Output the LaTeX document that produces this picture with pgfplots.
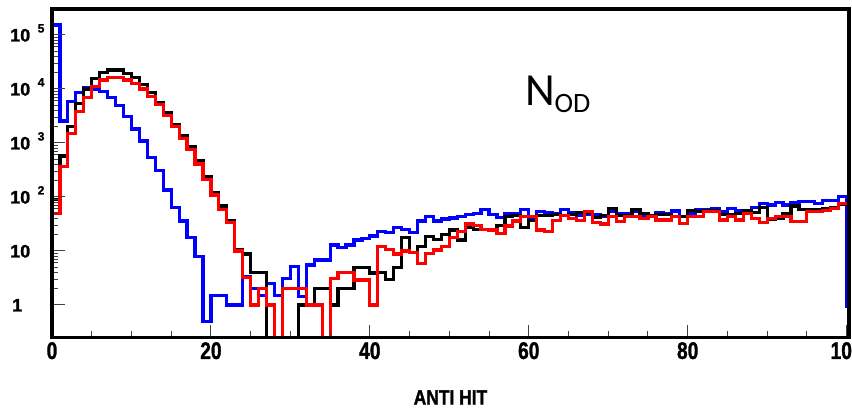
\documentclass[border=0pt]{standalone}
\usepackage{graphicx}
\usepackage{pgfplots}
\pgfplotsset{compat=1.18}
\usepackage{fontspec}
\setmainfont{Liberation Sans}
\newfontfamily\hv[FakeBold=1.5]{Liberation Sans Bold}
\newfontfamily\carlito{Carlito}
\newcommand\dec[1]{10\hspace{7.5bp}\raisebox{9bp}{\fontsize{12bp}{12bp}\selectfont #1}}
\newcommand\xl[1]{\scalebox{0.8}[1]{#1}}
\begin{document}
\begin{tikzpicture}
\begin{axis}[
 scale only axis, width=797bp, height=328.5bp,
 ymode=log, xmin=0, xmax=100.3, ymin=0.25, ymax=3.03e5,
 axis on top,
 axis line style={line width=3.1bp},
 tick pos=left, tick align=inside,
 major tick length=13bp, minor tick length=6.5bp,
 every tick/.style={black!75, line width=1bp},
 xtick={0,20,40,60,80,100}, minor x tick num=3,
 xticklabels={\xl{0},\xl{20},\xl{40},\xl{60},\xl{80},\xl{100}},
 ytick={1,10,100,1000,10000,100000},
 yticklabels={\hspace{2bp}1,10,\dec{2},\dec{3},\dec{4},\dec{5}},
 yticklabel style={anchor=base west, inner sep=0pt, xshift=-42bp, yshift=-6.5bp, font=\hv\fontsize{18bp}{18bp}\selectfont},
 xticklabel style={anchor=north, inner sep=0pt, yshift=-4.5bp, font=\hv\fontsize{24bp}{24bp}\selectfont},
 xlabel={\scalebox{0.85}[1]{ANTI HIT}},
 every axis x label/.style={at={(axis description cs:0.5,0)}, anchor=base, yshift=-67bp, inner sep=0pt, font=\hv\fontsize{20.5bp}{20.5bp}\selectfont},
 every axis plot/.append style={const plot, line width=3.2bp, no markers},
]
\addplot[blue] coordinates {(0,0.01)(0,153000)(1,2550)(2,5830)(3,8670)(4,10600)(5,10000)(6,8930)(7,6920)(8,4910)(9,3070)(10,1820)(11,1090)(12,535)(13,312)(14,135)(15,63)(16,36)(17,17.5)(18,8)(19,0.49)(20,1.5)(21,1.5)(22,1)(23,1)(24,3.4)(25,2)(26,1.5)(27,2.5)(28,1.5)(29,3.1)(30,5.1)(31,1.45)(32,5.5)(33,6.8)(34,6.8)(35,12.9)(36,11.7)(37,12.9)(38,16)(39,17)(40,19)(41,22.8)(42,22)(43,27)(44,25)(45,22)(46,36)(47,43)(48,36)(49,39)(50,41)(51,43)(52,47)(53,50)(54,59)(55,48)(56,42)(57,50)(58,50)(59,59)(60,40)(61,53)(62,51)(63,50)(64,59)(65,51)(66,46)(67,47)(68,47)(69,44)(70,54)(71,50)(72,50)(73,54)(74,43)(75,43)(76,52)(77,49)(78,55)(79,43)(80,50)(81,58)(82,58)(83,60)(84,53)(85,62)(86,57)(87,57)(88,64)(89,76)(90,71)(91,78)(92,71)(93,78)(94,82)(95,82)(96,76)(97,85)(98,85)(99,101)(100,0.93)(101,0.93)};
\addplot[black] coordinates {(0,0.01)(0,90)(1,575)(2,2000)(3,5430)(4,10000)(5,15800)(6,20400)(7,22500)(8,22500)(9,19500)(10,16300)(11,12200)(12,8700)(13,5660)(14,3700)(15,2150)(16,1400)(17,850)(18,480)(19,240)(20,120)(21,68)(22,36)(23,10.7)(24,8.8)(25,4)(26,4)(27,0.01)(28,0.01)(29,0.01)(30,0.01)(31,1)(32,1)(33,2)(34,2)(35,1)(36,2)(37,2)(38,5)(39,5)(40,3.9)(41,4)(42,3)(43,5)(44,17.9)(45,9.5)(46,12)(47,18.5)(48,16.4)(49,20)(50,24.5)(51,16)(52,27)(53,25)(54,25)(55,25)(56,30)(57,43)(58,46)(59,27)(60,37)(61,45)(62,46)(63,48)(64,46)(65,48)(66,51)(67,51)(68,42)(69,46)(70,62)(71,46)(72,46)(73,59)(74,50)(75,46)(76,48)(77,48)(78,43)(79,43)(80,56)(81,54)(82,56)(83,57)(84,48)(85,48)(86,50)(87,57)(88,52)(89,64)(90,39)(91,40)(92,50)(93,68)(94,59)(95,59)(96,59)(97,62)(98,64)(99,74)(100,74)(101,74)};
\addplot[red] coordinates {(0,0.01)(0,50)(1,364)(2,1510)(3,3800)(4,6920)(5,11000)(6,14700)(7,16400)(8,16400)(9,14700)(10,12700)(11,10000)(12,7210)(13,5200)(14,3210)(15,2000)(16,1220)(17,750)(18,408)(19,212)(20,109)(21,59)(22,33.5)(23,10)(24,3.2)(25,1)(26,2)(27,1)(28,0.01)(29,2)(30,2)(31,2)(32,1)(33,1)(34,0.01)(35,3.1)(36,4)(37,4)(38,2.9)(39,2.9)(40,1)(41,12)(42,10.7)(43,8.8)(44,10)(45,9.5)(46,5.9)(47,9)(48,10.4)(49,12)(50,17.9)(51,23)(52,31.6)(53,30)(54,25)(55,24.5)(56,21)(57,29)(58,36)(59,43)(60,43)(61,24.5)(62,23)(63,37)(64,46)(65,40)(66,37)(67,53)(68,33.4)(69,31.6)(70,43)(71,35)(72,43)(73,43)(74,40)(75,43)(76,37.5)(77,37.5)(78,43)(79,32.5)(80,43)(81,43)(82,53)(83,53)(84,37.5)(85,43)(86,37.5)(87,50)(88,40)(89,33.4)(90,40)(91,43)(92,43)(93,35)(94,35)(95,53)(96,53)(97,57)(98,62)(99,76)(100,76)(101,76)};
\node[anchor=base west, inner sep=0pt] at (axis cs:59.5,5000) {\carlito\fontsize{46bp}{46bp}\selectfont N\raisebox{-7bp}{\fontsize{28bp}{28bp}\selectfont OD}};
\end{axis}
\pgfresetboundingbox
\path (current axis.south west) ++(-52bp,-71.5bp) rectangle ++(852bp,409bp);
\end{tikzpicture}
\end{document}
